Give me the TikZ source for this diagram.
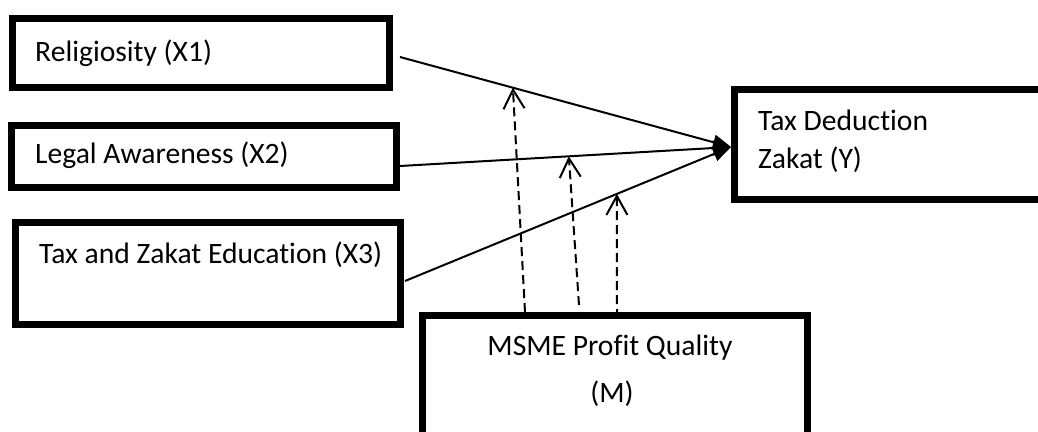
\documentclass[tikz,border=0pt]{standalone}
\usepackage{fontspec}
\setmainfont{Carlito}[Ligatures=NoCommon]
\usetikzlibrary{arrows.meta,calc}
\begin{document}
\begin{tikzpicture}[x=1pt,y=-1pt,
  box/.style={draw,line width=7pt,rectangle,inner sep=0pt},
  lbl/.style={anchor=base west,inner sep=0pt,font=\fontsize{29.6}{35}\selectfont},
  clbl/.style={anchor=base,inner sep=0pt,font=\fontsize{29.6}{35}\selectfont},
  effect/.style={line width=2pt,-{Triangle[length=18pt,width=15pt]}},
  moder/.style={line width=2pt,dash pattern=on 9pt off 5pt,-{Straight Barb[length=19pt,width=21pt,line width=2pt]}}]
\useasboundingbox (0,0) rectangle (1038,431);
% boxes
\node[box,minimum width=377pt,minimum height=69pt] (x1) at (201,53) {};
\node[box,minimum width=385pt,minimum height=62pt] (x2) at (204,156.5) {};
\node[box,minimum width=385pt,minimum height=102pt] (x3) at (208,273.5) {};
\node[box,minimum width=310.5pt,minimum height=110pt] (y) at (889.75,144.5) {};
\node[box,minimum width=384.5pt,minimum height=129.5pt] (m) at (614.75,380.25) {};
% labels
\node[lbl] (t1) at (35,61) {Religiosity (X1)};
\node[lbl] (t2) at (35,163) {Legal Awareness (X2)};
\node[lbl] (t3) at (39,263) {Tax and Zakat Education (X3)};
\node[lbl] (ty1) at (758,130) {Tax Deduction};
\node[lbl] (ty2) at (758,168) {Zakat (Y)};
\node[clbl] (tm1) at (610,355) {MSME Profit Quality};
\node[clbl] (tm2) at (612,402) {(M)};
% connector points
\coordinate (s1) at (400,57);
\coordinate (s2) at (400,166);
\coordinate (s3) at (405,281);
\coordinate (tip) at (731,147);
\coordinate (h1) at ($(s1)!0.341!(tip)$);
\coordinate (h2) at ($(s2)!0.51!(tip)$);
\coordinate (h3) at ($(s3)!0.65!(tip)$);
\coordinate (m1) at (525,312);
\coordinate (m2) at (579,305);
\coordinate (m3) at (617,318);
% effects
\draw[effect] (s1) -- (tip);
\draw[effect] (s2) -- (tip);
\draw[effect] (s3) -- (tip);
% moderation
\draw[moder] (m1) -- (h1);
\draw[moder] (m2) -- (h2);
\draw[moder] (m3) -- (h3);
\end{tikzpicture}
\end{document}
